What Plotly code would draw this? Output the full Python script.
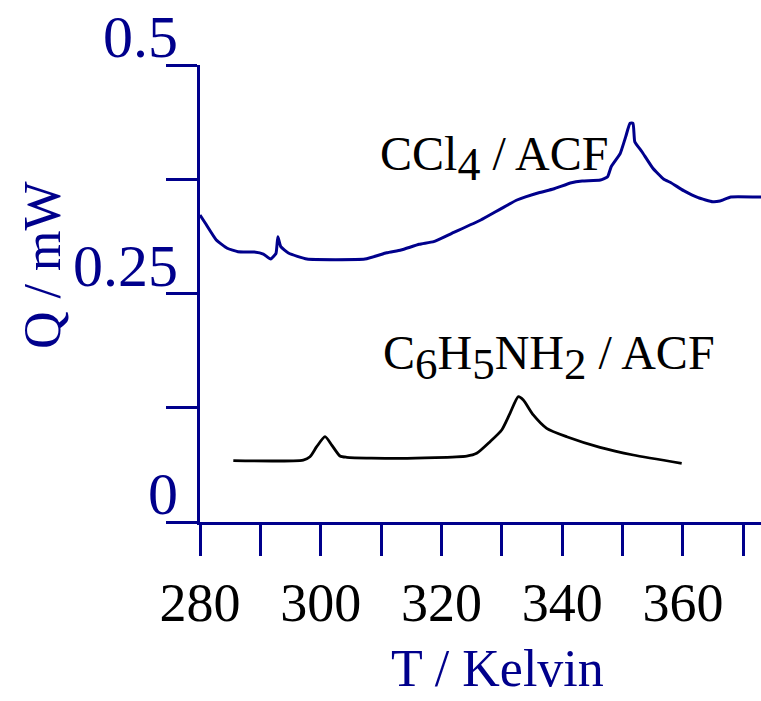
import plotly.graph_objects as go

# CCl4 / ACF curve (T in K, Q in mW)
ccl4_T = [280.0, 280.89, 282.70, 284.51, 286.29, 288.99, 290.50, 291.71, 292.59, 292.90,
          293.38, 294.71, 297.71, 307.33, 310.91, 313.30, 316.31, 318.71, 321.71, 326.51,
          332.51, 336.12, 338.52, 341.52, 343.31, 346.32, 347.52, 348.11, 349.62, 350.52,
          351.23, 351.73, 352.02, 353.21, 355.02, 356.83, 358.02, 360.12, 362.52, 364.93,
          366.14, 367.93, 372.10, 372.93]
ccl4_Q = [0.3359, 0.3268, 0.3085, 0.2995, 0.2957, 0.2954, 0.2932, 0.2877, 0.2940, 0.3121,
          0.3012, 0.2940, 0.2877, 0.2877, 0.2946, 0.2976, 0.3038, 0.3067, 0.3159, 0.3304,
          0.3523, 0.3603, 0.3643, 0.3712, 0.3731, 0.3742, 0.3778, 0.3887, 0.4034, 0.4216,
          0.4362, 0.4362, 0.4161, 0.4051, 0.3870, 0.3750, 0.3712, 0.3625, 0.3548, 0.3504,
          0.3512, 0.3556, 0.3556, 0.3556]

# C6H5NH2 / ACF curve
anil_T = [285.52, 297.11, 298.22, 299.33, 300.71, 301.82, 303.19, 304.30, 313.13, 324.18,
          325.83, 328.04, 329.98, 331.35, 332.73, 333.56, 335.21, 337.43, 340.74, 346.26,
          351.77, 359.79]
anil_Q = [0.0671, 0.0678, 0.0714, 0.0824, 0.0933, 0.0842, 0.0722, 0.0708, 0.0697, 0.0722,
          0.0752, 0.0879, 0.1007, 0.1189, 0.1371, 0.1335, 0.1171, 0.1025, 0.0933, 0.0817,
          0.0733, 0.0642]

x_ticks = [280, 290, 300, 310, 320, 330, 340, 350, 360, 370]
x_ticktext = ["280", "", "300", "", "320", "", "340", "", "360", ""]
y_ticks = [0, 0.125, 0.25, 0.375, 0.5]
y_ticktext = ["0", "", "0.25", "", "0.5"]

NAVY = "#00008C"
FONT = "Liberation Serif"

W, H = 761, 701
L, R, T, B = 200, 0, 65, 179


def px_to_paper(px, py):
    return (px - L) / (W - L - R), (H - B - py) / (H - T - B)


fig = go.Figure()
fig.add_trace(go.Scatter(x=ccl4_T, y=ccl4_Q, mode="lines",
                         line=dict(color=NAVY, width=3, shape="spline", smoothing=0.4),
                         showlegend=False, hoverinfo="skip"))
fig.add_trace(go.Scatter(x=anil_T, y=anil_Q, mode="lines",
                         line=dict(color="black", width=2.8, shape="spline", smoothing=0.6),
                         showlegend=False, hoverinfo="skip"))

fig.add_annotation(x=309.5, y=0.398, xref="x", yref="y", xanchor="left", yanchor="middle",
                   text="CCl<sub><span style='font-size:46px'>4</span></sub> / ACF",
                   showarrow=False, font=dict(family=FONT, size=48, color="black"))
fig.add_annotation(x=309.9, y=0.1805, xref="x", yref="y", xanchor="left", yanchor="middle",
                   text="C<sub><span style='font-size:45px'>6</span></sub>H<sub><span style='font-size:45px'>5</span></sub>NH<sub><span style='font-size:45px'>2</span></sub> / ACF",
                   showarrow=False, font=dict(family=FONT, size=48, color="black"))

# axis titles
tx, ty = px_to_paper(497, 668)
fig.add_annotation(x=tx, y=ty, xref="paper", yref="paper", xanchor="center", yanchor="middle",
                   text="T / Kelvin", showarrow=False,
                   font=dict(family=FONT, size=52, color=NAVY))
qx, qy = px_to_paper(42, 265)
fig.add_annotation(x=qx, y=qy, xref="paper", yref="paper", xanchor="center", yanchor="middle",
                   text="Q / mW", showarrow=False, textangle=-90,
                   font=dict(family=FONT, size=52, color=NAVY))

fig.update_layout(
    width=W, height=H,
    margin=dict(l=L, r=R, t=T, b=B, pad=0),
    paper_bgcolor="white", plot_bgcolor="white",
    xaxis=dict(range=[280, 372.93], tickvals=x_ticks, ticktext=x_ticktext,
               showline=True, linecolor=NAVY, linewidth=3, showgrid=False, zeroline=False,
               ticks="outside", ticklen=31, tickwidth=3, tickcolor=NAVY,
               tickfont=dict(family=FONT, size=54, color="black"), ticklabelstandoff=0),
    yaxis=dict(range=[0, 0.5], tickvals=y_ticks, ticktext=y_ticktext,
               showline=True, linecolor=NAVY, linewidth=3, showgrid=False, zeroline=False,
               ticks="outside", ticklen=31, tickwidth=3, tickcolor=NAVY,
               tickfont=dict(family=FONT, size=60, color=NAVY), ticklabelshift=-29,
               ticklabelstandoff=-24),
)

fig.write_html("out.html")
